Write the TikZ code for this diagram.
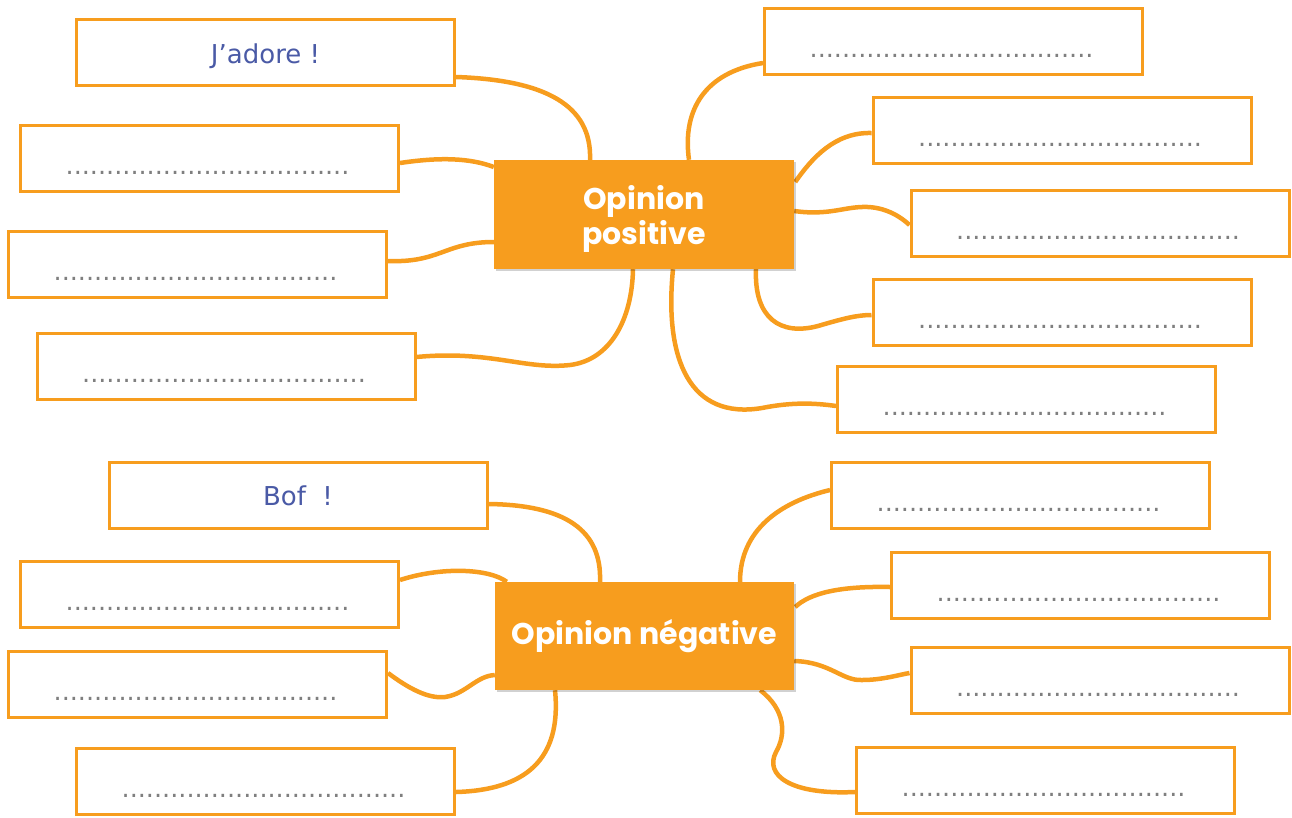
\documentclass[tikz,border=0pt]{standalone}
\usepackage{fontspec}
\usetikzlibrary{calc,backgrounds,shadows}
\newfontfamily\dejavu{DejaVu Sans}
\newfontfamily\pop{Poppins}
\definecolor{orng}{HTML}{F79D1E}
\definecolor{bluetxt}{HTML}{4A5AA6}
\definecolor{dotgray}{HTML}{7F7F7F}
\begin{document}
\begin{tikzpicture}[x=1pt,y=-1pt,
  box/.style={draw=orng,line width=3pt,fill=white,minimum width=378pt,minimum height=66pt,inner sep=0pt,
    drop shadow={shadow xshift=1.5pt,shadow yshift=-1.5pt,opacity=0.18,fill=black}},
  hub/.style={fill=orng,text=white,inner sep=0pt,align=center,font=\pop\bfseries\fontsize{30}{35}\selectfont,
    drop shadow={shadow xshift=1.5pt,shadow yshift=-1.5pt,opacity=0.18,fill=black}},
  dots/.style={anchor=base,inner sep=0pt,text=dotgray,font=\dejavu\fontsize{25.5}{30}\selectfont},
  label/.style={anchor=base,inner sep=0pt,text=bluetxt,font=\dejavu\fontsize{26}{30}\selectfont},
  link/.style={draw=orng,line width=4.5pt}]
\useasboundingbox (0,0) rectangle (1292,817);
\def\dotline{...................................}
% hubs
\node[hub,minimum width=300pt,minimum height=109pt,text depth=0pt] (pos) at (644,214.5) {Opinion\\positive};
\node[hub,minimum width=299pt,minimum height=108pt] (neg) at (644.5,636) {Opinion négative};
% boxes
\node[box] (b1) at (265.5,52.5) {};
\node[box] (b2) at (209.5,158.5) {};
\node[box] (b3) at (197.5,264.5) {};
\node[box] (b4) at (226,366.5) {};
\node[box] (b5) at (953.5,41.5) {};
\node[box] (b6) at (1062,130.5) {};
\node[box] (b7) at (1100,223.5) {};
\node[box] (b8) at (1062,312.5) {};
\node[box] (b9) at (1026.5,399.5) {};
\node[box] (b10) at (298,495) {};
\node[box] (b11) at (209.5,594.5) {};
\node[box] (b12) at (197.5,684.5) {};
\node[box] (b13) at (265.5,781.5) {};
\node[box] (b14) at (1020.5,495.5) {};
\node[box] (b15) at (1080.5,585.5) {};
\node[box] (b16) at (1100,680.5) {};
\node[box] (b17) at (1045.5,780.5) {};
% texts
\node[label] (t1) at ($(b1.center)+(0,10.5)$) {J’adore !};
\node[label] (t10) at ($(b10.center)+(0,10)$) {Bof~~!};
\foreach \b in {b2,b3,b4,b5,b6,b7,b8,b9,b11,b12,b13,b14,b15,b16,b17}
  \node[dots] (t\b) at ($(\b.center)+(-2,15.5)$) {\dotline};
% connectors
\begin{scope}[on background layer]
\draw[link] ($(b1.east)+(0,24.5)$) .. controls (545,80) and (592,105) .. ($(pos.north)+(-54,0)$);
\draw[link] ($(b2.east)+(0,4.5)$) .. controls (440,157) and (470,158) .. ($(pos.west)+(0,-47.5)$);
\draw[link] ($(b3.east)+(0,-3.5)$) .. controls (440,263) and (445,242) .. ($(pos.west)+(0,27.5)$);
\draw[link] ($(b4.east)+(0,-9.5)$) .. controls (490,350) and (525,370) .. (570,365) .. controls (610,360) and (632,320) .. ($(pos.south)+(-11,0)$);
\draw[link] ($(b5.west)+(0,21.5)$) .. controls (705,72) and (682,110) .. ($(pos.north)+(45,0)$);
\draw[link] ($(b6.west)+(0,2.5)$) .. controls (835,132) and (812,158) .. ($(pos.east)+(1,-32.5)$);
\draw[link] ($(pos.east)+(0,-3.5)$) .. controls (830,216) and (845,206) .. (868,207) .. controls (888,208) and (902,218) .. ($(b7.west)+(0,1.5)$);
\draw[link] ($(pos.south)+(112,0)$) .. controls (754,318) and (780,336) .. (818,326) .. controls (845,318) and (858,315) .. ($(b8.west)+(0,2.5)$);
\draw[link] ($(pos.south)+(29,0)$) .. controls (664,360) and (690,420) .. (762,408) .. controls (792,402) and (815,403) .. ($(b9.west)+(0,6.5)$);
\draw[link] ($(b10.east)+(0,9)$) .. controls (565,505) and (602,530) .. ($(neg.north)+(-44.5,0)$);
\draw[link] ($(b11.east)+(0,-14.5)$) .. controls (440,567) and (488,568) .. ($(neg.north west)+(12,0)$);
\draw[link] ($(b12.east)+(0,-11.5)$) .. controls (408,688) and (428,699) .. (445,697) .. controls (466,694) and (476,676) .. ($(neg.west)+(0,39)$);
\draw[link] ($(b13.east)+(0,10.5)$) .. controls (525,790) and (562,760) .. ($(neg.south)+(-89.5,0)$);
\draw[link] ($(b14.west)+(0,-5.5)$) .. controls (780,502) and (740,530) .. ($(neg.north)+(95.5,0)$);
\draw[link] ($(b15.west)+(0,1.5)$) .. controls (840,586) and (810,593) .. ($(neg.east)+(1,-29)$);
\draw[link] ($(neg.east)+(0,25)$) .. controls (830,662) and (842,681) .. (862,680) .. controls (882,680) and (898,675) .. ($(b16.west)+(0,-7.5)$);
\draw[link] ($(neg.south east)+(-34,0)$) .. controls (786,710) and (786,735) .. (776,752) .. controls (764,775) and (790,795) .. ($(b17.west)+(0,11.5)$);
\end{scope}
\end{tikzpicture}
\end{document}
